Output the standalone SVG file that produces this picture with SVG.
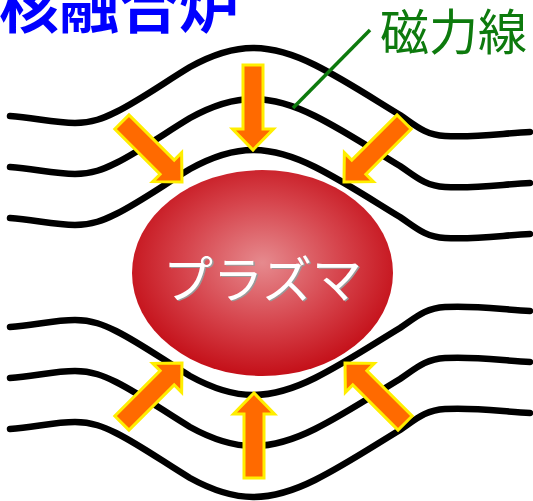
<svg xmlns="http://www.w3.org/2000/svg" width="533" height="501" viewBox="0 0 533 501">
  <defs>
    <radialGradient id="plasmaFill" cx="0.5" cy="0.45" r="0.55">
      <stop offset="0" stop-color="#e68a8e"/>
      <stop offset="0.55" stop-color="#d6444c"/>
      <stop offset="1" stop-color="#c40f18"/>
    </radialGradient>
    <!-- field line, top group -->
    <path id="fieldLine" d="M10,116 C35,118 55,123 75,123 C92,123 104,118 116,112 C140,100 165,82 190,67 C210,56 230,48 253,48 C275,48 295,55 315,65 C345,80 375,100 400,115 C415,125 425,135 445,136 C475,138 505,133 530,132"/>
    <!-- compression arrow, tip at origin, pointing +y -->
    <polygon id="arrow" points="-10,-85 10,-85 10,-21 20.5,-21 0,0 -20.5,-21 -10,-21"/>
  </defs>
  <style>
    .field { fill: none; stroke: #000; stroke-width: 6.5; stroke-linecap: round; stroke-linejoin: round; }
    .push { fill: #ff6a00; stroke: #ffee00; stroke-width: 3; stroke-linejoin: miter; }
    .title { font-family: "Noto Sans CJK JP", "Noto Sans", sans-serif; font-weight: bold; font-size: 60px; fill: #0000ff; }
    .label { font-family: "Noto Sans CJK JP", "Noto Sans", sans-serif; font-size: 49px; fill: #0d7a0d; }
    .plasma-text { font-family: "Noto Sans CJK JP", "Noto Sans", sans-serif; font-size: 50px; text-anchor: middle; }
  </style>

  <rect width="533" height="501" fill="#ffffff"/>

  <g id="title">
    <text class="title" x="-1" y="28">核融合炉</text>
  </g>

  <g id="plasma">
    <ellipse cx="262.5" cy="273" rx="130.5" ry="103" fill="url(#plasmaFill)"/>
    <text class="plasma-text" x="264" y="299" fill="#9a9a9a">プラズマ</text>
    <text class="plasma-text" x="262.5" y="297.5" fill="#ffffff">プラズマ</text>
  </g>

  <g id="connectors">
    <g id="field-lines-top">
      <use href="#fieldLine" class="field"/>
      <use href="#fieldLine" class="field" transform="translate(0,51)"/>
      <use href="#fieldLine" class="field" transform="translate(0,102)"/>
    </g>
    <g id="field-lines-bottom" transform="translate(0,545) scale(1,-1)">
      <use href="#fieldLine" class="field"/>
      <use href="#fieldLine" class="field" transform="translate(0,51)"/>
      <use href="#fieldLine" class="field" transform="translate(0,102)"/>
    </g>
    <g id="pressure-arrows">
      <use href="#arrow" class="push" transform="translate(253,150)"/>
      <use href="#arrow" class="push" transform="translate(182,182) rotate(-45)"/>
      <use href="#arrow" class="push" transform="translate(344,182) rotate(45)"/>
      <use href="#arrow" class="push" transform="translate(254,393) rotate(180)"/>
      <use href="#arrow" class="push" transform="translate(182,363) rotate(-135)"/>
      <use href="#arrow" class="push" transform="translate(345,363) rotate(135)"/>
    </g>
    <line id="label-leader" x1="370" y1="30" x2="293" y2="108" stroke="#0d7a0d" stroke-width="3.5"/>
  </g>

  <g id="field-label">
    <text class="label" x="380" y="50">磁力線</text>
  </g>
</svg>
